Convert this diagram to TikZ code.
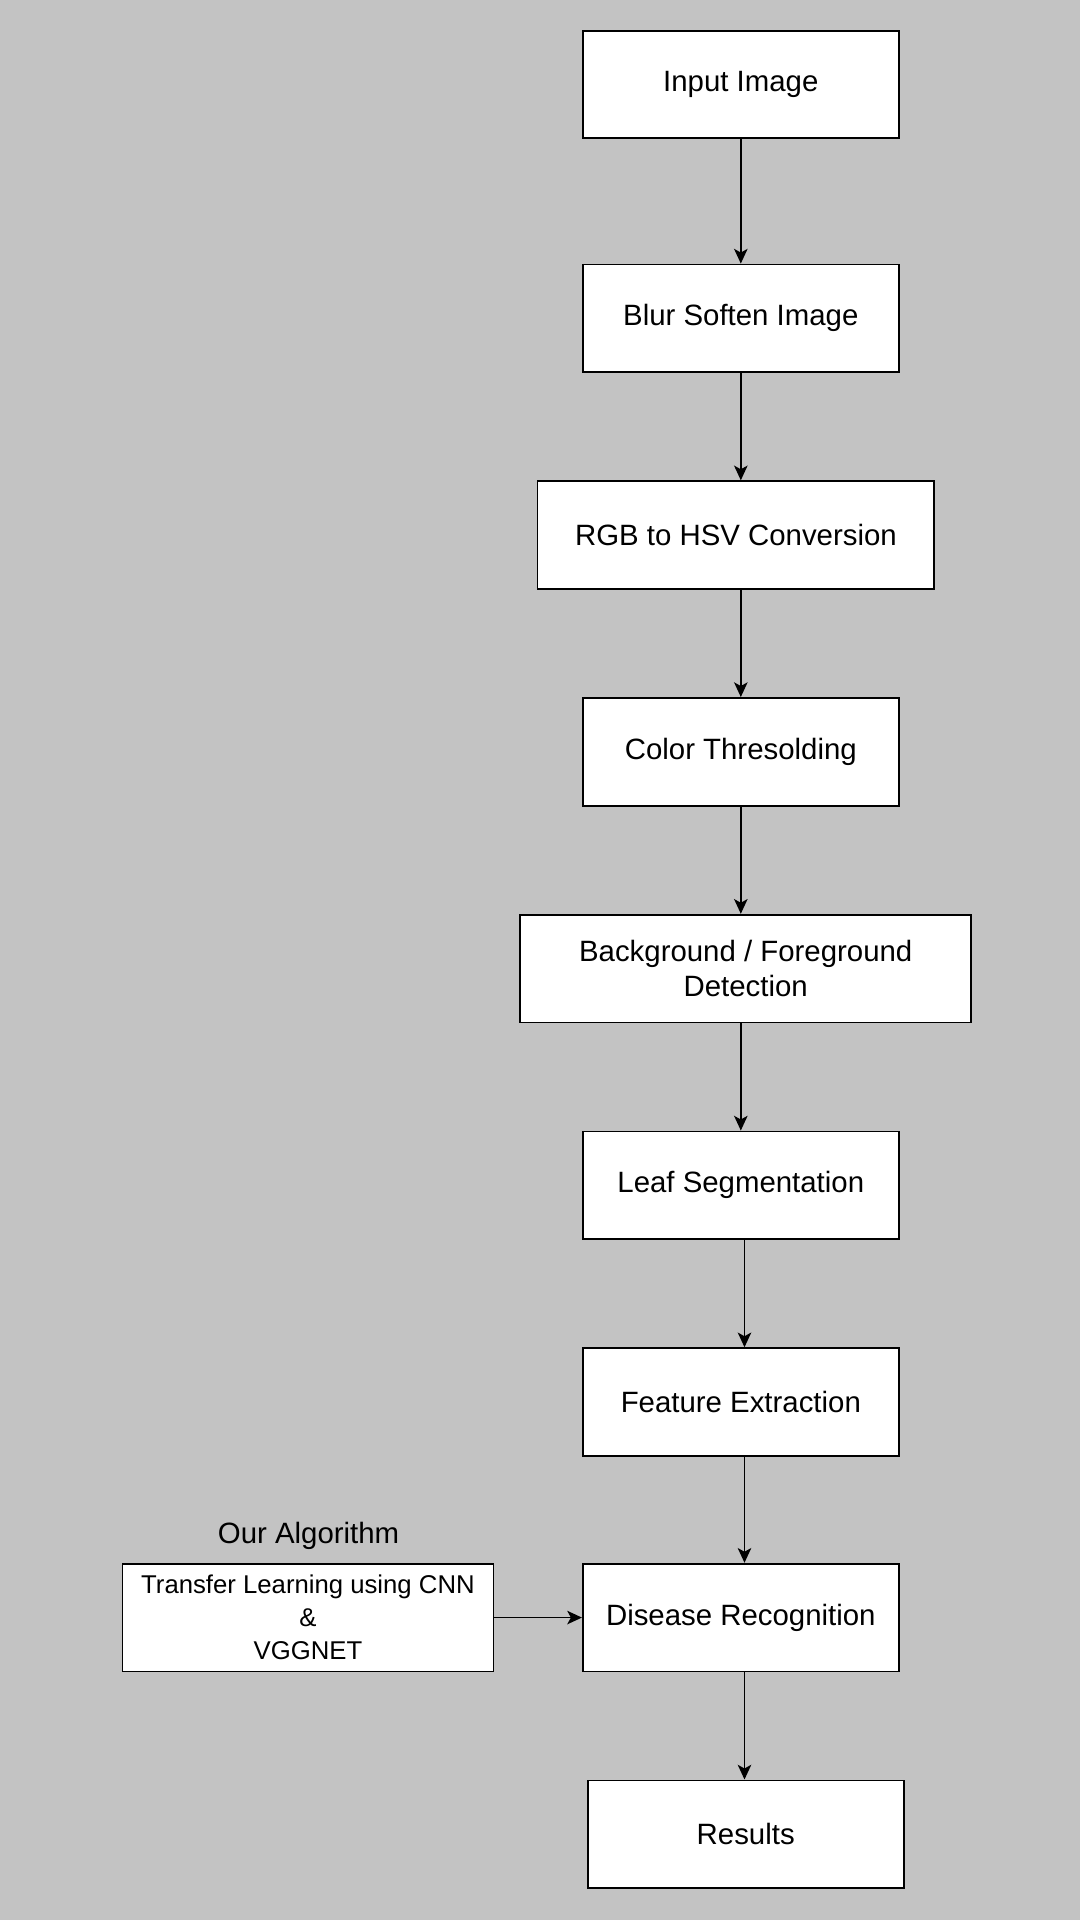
\documentclass[tikz,border=0pt]{standalone}
\usepackage{fontspec}
\setmainfont{Liberation Sans}
\usetikzlibrary{arrows.meta}
\definecolor{bggray}{RGB}{195,195,195}

\begin{document}
\begin{tikzpicture}[
    x=0.5pt,y=-0.5pt,
    box/.style={draw, line width=0.75pt, fill=white, minimum width=129pt,
      minimum height=44pt, inner sep=0pt, align=center,
      font=\fontsize{12}{14}\selectfont},
    arr/.style={line width=0.75pt, -{Stealth[length=6pt,width=5.5pt,inset=1.5pt]}}
    ]
    \fill[bggray] (0, 0) rectangle (882, 1568);
    \node[box] (input) at (605, 69) {Input Image};
    \node[box] (blur) at (605, 260) {Blur Soften Image};
    \node[box, minimum width=162pt] (rgb) at (601, 437) {RGB to HSV Conversion};
    \node[box] (thresh) at (605, 614) {Color Thresolding};
    \node[box, minimum width=184pt] (bgfg) at (609, 791) {Background / Foreground\\Detection};
    \node[box] (leaf) at (605, 968) {Leaf Segmentation};
    \node[box] (feat) at (605, 1145) {Feature Extraction};
    \node[box] (disease) at (605, 1321) {Disease Recognition};
    \node[box] (results) at (609, 1498) {Results};
    \node[box, minimum width=151.5pt, font=\fontsize{10.5}{13.5}\selectfont] (algo) at (251.5, 1321)
      {Transfer Learning using CNN\\\&\\VGGNET};
    \node[font=\fontsize{12}{14}\selectfont] (algolabel) at (252, 1254) {Our Algorithm};
    \draw[arr] (input.south) -- (input.south |- blur.north);
    \draw[arr] (blur.south) -- (blur.south |- rgb.north);
    \draw[arr] (blur.south |- rgb.south) -- (blur.south |- thresh.north);
    \draw[arr] (thresh.south) -- (thresh.south |- bgfg.north);
    \draw[arr] (thresh.south |- bgfg.south) -- (thresh.south |- leaf.north);
    \draw[arr] ([xshift=1.5pt]leaf.south) -- ([xshift=1.5pt]feat.north);
    \draw[arr] ([xshift=1.5pt]feat.south) -- ([xshift=1.5pt]disease.north);
    \draw[arr] ([xshift=1.5pt]disease.south) -- ([xshift=1.5pt]disease.south |- results.north);
    \draw[arr] (algo.east) -- (disease.west);
  \end{tikzpicture}
\end{document}
